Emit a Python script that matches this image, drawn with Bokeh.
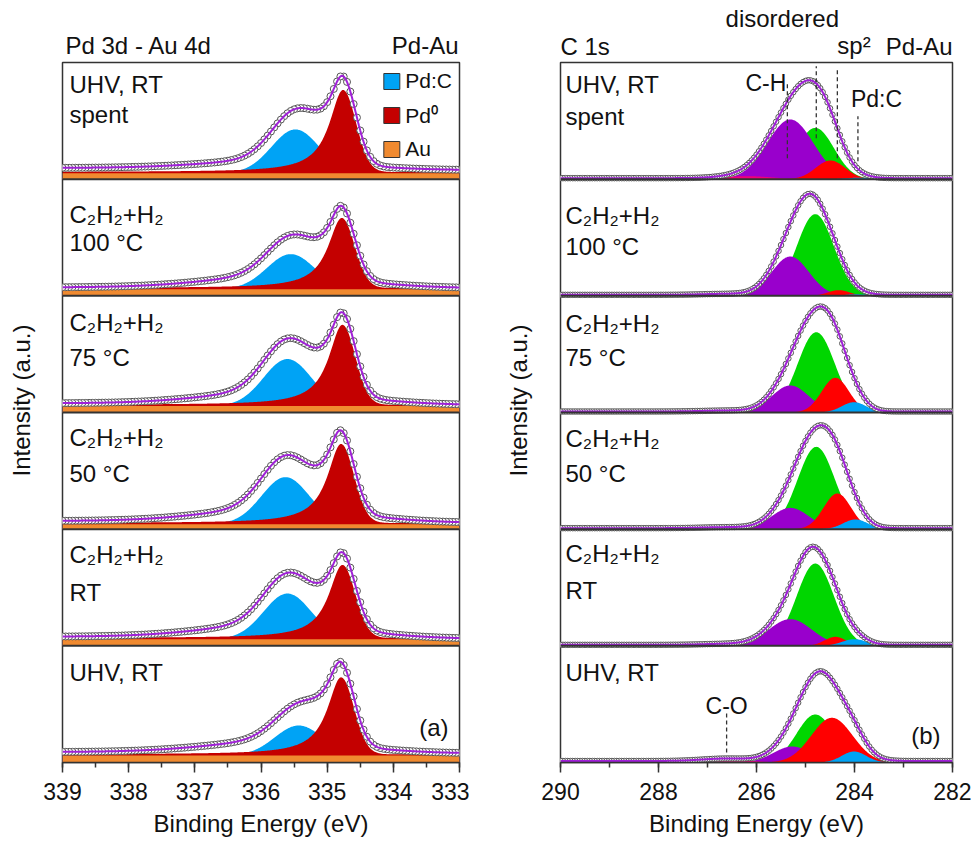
import numpy as np
from bokeh.plotting import figure
from bokeh.models import Range1d, Label, Span, SingleIntervalTicker, Legend, LegendItem
from bokeh.layouts import row, column
from bokeh.embed import file_html
from bokeh.resources import INLINE

# ---------------- data (panels listed top -> bottom) ----------------
line1_labels = ["UHV, RT", "C₂H₂+H₂", "C₂H₂+H₂", "C₂H₂+H₂", "C₂H₂+H₂", "UHV, RT"]
line2_labels = ["spent", "100 °C", "75 °C", "50 °C", "RT", ""]

# Pd 3d - Au 4d fitted components (intensity in a.u.)
pd_au_level = [6.0, 6.7, 6.5, 5.0, 6.7, 7.0]
pd0_center = [334.76, 334.78, 334.77, 334.79, 334.77, 334.79]
pd0_amp = [82.0, 70.0, 80.0, 79.0, 73.0, 77.0]
pdc_center = [335.48, 335.55, 335.60, 335.63, 335.60, 335.43]
pdc_amp = [43.7, 35.0, 47.0, 47.0, 45.6, 30.0]
pd_bg_const = [3.0, 1.0, 1.0, 1.3, 0.3, 2.0]
pd_bg_step = [2.0, 0.6, 1.5, 1.7, 2.0, 1.3]
pd_bg_hump = [7.0, 11.0, 11.5, 12.5, 12.5, 10.0]

# C 1s fitted components (intensity in a.u.)
ch_center = [285.31, 285.31, 285.31, 285.31, 285.31, 285.27]
ch_amp = [59.7, 39.3, 27.0, 21.3, 26.7, 16.0]
ch_sigma = [0.47, 0.38, 0.38, 0.38, 0.44, 0.38]
dis_center = [284.80, 284.80, 284.78, 284.78, 284.80, 284.80]
dis_amp = [51.3, 81.7, 80.3, 82.3, 82.3, 48.0]
sp2_center = [284.49, 284.32, 284.39, 284.35, 284.39, 284.46]
sp2_amp = [18.7, 5.7, 34.7, 35.7, 9.0, 44.7]
sp2_sigma = [0.30, 0.22, 0.28, 0.28, 0.22, 0.42]
cpdc_center = [283.90, 283.95, 284.01, 283.98, 284.00, 284.01]
cpdc_amp = [1.5, 1.5, 10.3, 9.7, 6.7, 11.0]
co_center = [286.20, 286.60, 286.60, 286.60, 286.60, 286.60]
co_amp = [3.0, 1.0, 1.0, 1.0, 1.0, 2.5]
c_bg = [1.0, 1.0, 1.0, 1.0, 1.0, 1.5]

# peak-position markers
top_markers = ["C-H", "disordered", "sp²", "Pd:C"]
top_marker_be = [285.37, 284.78, 284.35, 283.93]
co_marker_be = 286.61

# ---------------- styling ----------------
FONT = "Liberation Sans"
C_PDC = "#00A3F5"
C_PD0 = "#C40000"
C_AU = "#F08A30"
C_GREEN = "#00D600"
C_PURPLE = "#9900CC"
C_RED = "#FF0000"
C_BLUE = "#00A3F5"
C_PINK = "#F0007A"
C_ENV = "#A020D8"
FRAME = "#333333"
TXT = "#111111"
NPAN = 6
FH = 700
PX = FH / NPAN  # pixels per panel unit
HEAD = 60       # header height
BOTTOM = 83


def gauss(x, c, s):
    return np.exp(-0.5 * ((x - c) / s) ** 2)


def pd0_shape(x, c):
    d = x - c
    hi = 1.0 / (1.0 + (d / 0.25) ** 2)
    lo = np.exp(-np.log(2) * (d / 0.23) ** 2)
    return np.where(d > 0, hi, lo)


def sigm(x, c, w):
    return 1.0 / (1.0 + np.exp(-(x - c) / w))


def txt(p, x, y, s, xo=0, yo=0, size="24px", align="left", base="middle", angle=0.0):
    p.add_layout(Label(x=x, y=y, text=s, x_offset=xo, y_offset=yo, text_font=FONT,
                       text_font_size=size, text_align=align, text_baseline=base,
                       text_color=TXT, angle=angle))


def blank(p):
    p.xgrid.visible = False
    p.ygrid.visible = False
    p.outline_line_color = None
    p.background_fill_color = "white"
    p.border_fill_color = "white"


def make_main(xr, fw, bl, br):
    p = figure(frame_width=fw, frame_height=FH,
               x_range=xr, y_range=Range1d(0, NPAN),
               output_backend="svg", toolbar_location=None, y_axis_location=None,
               min_border_left=bl, min_border_right=br, min_border_top=2,
               min_border_bottom=BOTTOM)
    p.xgrid.visible = False
    p.ygrid.visible = False
    p.outline_line_color = FRAME
    p.outline_line_width = 1.5
    p.background_fill_color = "white"
    p.border_fill_color = "white"
    ax = p.xaxis[0]
    ax.axis_line_color = FRAME
    ax.axis_line_width = 1.5
    ax.major_tick_out = 10
    ax.major_tick_in = 0
    ax.minor_tick_out = 5
    ax.minor_tick_in = 0
    ax.major_tick_line_color = FRAME
    ax.minor_tick_line_color = FRAME
    ax.major_tick_line_width = 1.5
    ax.minor_tick_line_width = 1.5
    ax.major_label_text_font = FONT
    ax.major_label_text_font_size = "23px"
    ax.major_label_text_color = TXT
    ax.major_label_standoff = 10
    ax.axis_label = "Binding Energy (eV)"
    ax.axis_label_text_font = FONT
    ax.axis_label_text_font_size = "24px"
    ax.axis_label_text_font_style = "normal"
    ax.axis_label_text_color = TXT
    ax.axis_label_standoff = 7
    for k in range(1, NPAN):
        p.add_layout(Span(location=k, dimension="width", line_color=FRAME, line_width=2))
    return p


def make_head(xr, fw, bl, br):
    p = figure(frame_width=fw, frame_height=HEAD, x_range=xr, y_range=Range1d(0, HEAD),
               output_backend="svg", toolbar_location=None, x_axis_location=None,
               y_axis_location=None, min_border_left=bl, min_border_right=br,
               min_border_top=0, min_border_bottom=0)
    blank(p)
    return p


def make_ylab(w, cx):
    H = HEAD + 2 + FH + BOTTOM
    p = figure(width=w, height=H, x_range=Range1d(0, w), y_range=Range1d(0, H),
               output_backend="svg", toolbar_location=None, x_axis_location=None,
               y_axis_location=None, min_border=0)
    blank(p)
    txt(p, cx, H - 400, "Intensity (a.u.)", align="center", angle=np.pi / 2)
    return p


# ================= left: Pd 3d - Au 4d =================
xrL = Range1d(339, 333)
pl = make_main(xrL, 397, 20, 10)
pl.xaxis.ticker = SingleIntervalTicker(interval=1, num_minor_ticks=2)
xf = np.linspace(333, 339, 601)
xc = np.round(np.arange(333, 339.001, 0.05), 3)

for k in range(NPAN):
    y0 = NPAN - 1 - k

    def env_pd(x):
        return (pd_au_level[k] + pdc_amp[k] * gauss(x, pdc_center[k], 0.36)
                + pd0_amp[k] * pd0_shape(x, pd0_center[k])
                + pd_bg_const[k] + pd_bg_step[k] * sigm(x, 334.8, 0.3)
                + pd_bg_hump[k] * gauss(x, 335.6, 1.1))

    au = pd_au_level[k]
    pdc = pdc_amp[k] * gauss(xf, pdc_center[k], 0.36)
    pd0 = pd0_amp[k] * pd0_shape(xf, pd0_center[k])
    pl.varea(x=xf, y1=y0, y2=y0 + (au + pdc) / PX, fill_color=C_PDC)
    pl.varea(x=xf, y1=y0, y2=y0 + (au + 1.2 + pd0) / PX, fill_color=C_PD0)
    pl.varea(x=xf, y1=y0, y2=y0 + au / PX + 0 * xf, fill_color=C_AU)
    pl.scatter(xc, y0 + env_pd(xc) / PX, marker="circle", size=7, fill_color="white",
               line_color="#555555", line_width=1)
    pl.line(xf, y0 + env_pd(xf) / PX, line_color=C_ENV, line_width=2)

# legend (swatches out of view; only used for the legend boxes)
r_pdc = pl.quad(left=[0], right=[0], top=[0], bottom=[0], fill_color=C_PDC, line_color=FRAME, line_width=1)
r_pd0 = pl.quad(left=[0], right=[0], top=[0], bottom=[0], fill_color=C_PD0, line_color=FRAME, line_width=1)
r_au = pl.quad(left=[0], right=[0], top=[0], bottom=[0], fill_color=C_AU, line_color=FRAME, line_width=1)
leg = Legend(items=[LegendItem(label="Pd:C", renderers=[r_pdc]),
                    LegendItem(label="Pd⁰", renderers=[r_pd0]),
                    LegendItem(label="Au", renderers=[r_au])],
             location="top_right", glyph_width=20, glyph_height=20, label_height=20,
             label_standoff=4, spacing=8, padding=4, margin=3,
             label_text_font=FONT, label_text_font_size="21px", label_text_color=TXT,
             border_line_alpha=0, background_fill_alpha=0)
pl.add_layout(leg)

l1_off = [22, 35, 27, 25, 25, 27]
l2_off = [52, 63, 62, 61, 63, 0]
for k in range(NPAN):
    top = NPAN - k
    txt(pl, 339, top, line1_labels[k], xo=7, yo=-l1_off[k])
    if line2_labels[k]:
        txt(pl, 339, top, line2_labels[k], xo=7, yo=-l2_off[k])
txt(pl, 333, 0, "(a)", xo=-11, yo=35, align="right")

hl = make_head(xrL, 397, 20, 10)
txt(hl, 339, HEAD - 45, "Pd 3d - Au 4d", xo=3)
txt(hl, 333, HEAD - 45, "Pd-Au", xo=-1, align="right")

# ================= right: C 1s =================
xrR = Range1d(290, 282)
pr = make_main(xrR, 392, 20, 19)
pr.xaxis.ticker = SingleIntervalTicker(interval=2, num_minor_ticks=2)
xf2 = np.linspace(282, 290, 801)
xc2 = np.round(np.arange(282, 290.001, 0.05), 3)

for k in range(NPAN):
    y0 = NPAN - 1 - k
    comps = [
        (dis_amp[k] * gauss(xf2, dis_center[k], 0.38), C_GREEN),
        (ch_amp[k] * gauss(xf2, ch_center[k], ch_sigma[k]), C_PURPLE),
        (sp2_amp[k] * gauss(xf2, sp2_center[k], sp2_sigma[k]), C_RED),
        (cpdc_amp[k] * gauss(xf2, cpdc_center[k], 0.25), C_BLUE),
        (co_amp[k] * gauss(xf2, co_center[k], 0.5), C_PINK),
    ]
    for comp, col in comps:
        pr.varea(x=xf2, y1=y0, y2=y0 + comp / PX, fill_color=col)

    def env_c(x):
        return (dis_amp[k] * gauss(x, dis_center[k], 0.38)
                + ch_amp[k] * gauss(x, ch_center[k], ch_sigma[k])
                + sp2_amp[k] * gauss(x, sp2_center[k], sp2_sigma[k])
                + cpdc_amp[k] * gauss(x, cpdc_center[k], 0.25)
                + co_amp[k] * gauss(x, co_center[k], 0.5) + c_bg[k])

    pr.scatter(xc2, y0 + env_c(xc2) / PX, marker="circle", size=5.5, fill_color="white",
               line_color="#555555", line_width=1)
    pr.line(xf2, y0 + env_c(xf2) / PX, line_color=C_ENV, line_width=2)

# marker lines in top panel (pixel extents above the panel bottom)
y_top_lo = [21, 41, 21, 18]
y_top_hi = [98, 113, 110, 63]
pr.segment(x0=top_marker_be, x1=top_marker_be,
           y0=[NPAN - 1 + v / PX for v in y_top_lo], y1=[NPAN - 1 + v / PX for v in y_top_hi],
           line_color=FRAME, line_width=1.3, line_dash="4 3")
pr.segment(x0=[co_marker_be], x1=[co_marker_be], y0=[10 / PX], y1=[49 / PX],
           line_color=FRAME, line_width=1.3, line_dash="4 3")

r1_off = [22, 36, 28, 26, 24, 27]
r2_off = [54, 67, 62, 61, 61, 0]
for k in range(NPAN):
    top = NPAN - k
    txt(pr, 290, top, line1_labels[k], xo=5, yo=-r1_off[k])
    if line2_labels[k]:
        txt(pr, 290, top, line2_labels[k], xo=5, yo=-r2_off[k])
txt(pr, top_marker_be[0], NPAN, top_markers[0], xo=-1, yo=-20, size="23px", align="right")
txt(pr, top_marker_be[3], NPAN, top_markers[3], xo=-7, yo=-36, size="23px")
txt(pr, co_marker_be, 0, "C-O", yo=57, size="23px", align="center")
txt(pr, 282, 0, "(b)", xo=-12, yo=27, align="right")

hr = make_head(xrR, 392, 20, 19)
txt(hr, 290, HEAD - 46, "C 1s")
txt(hr, 282, HEAD - 46, "Pd-Au", align="right")
txt(hr, top_marker_be[1], HEAD - 18, top_markers[1], xo=-34, align="center")
txt(hr, top_marker_be[2], HEAD - 45, top_markers[2], xo=0)

# y-axis titles
yl = make_ylab(42, 21)
yr = make_ylab(71, 49)

layout = row(yl, column(hl, pl), yr, column(hr, pr))
open("out.html", "w").write(file_html(layout, INLINE))
